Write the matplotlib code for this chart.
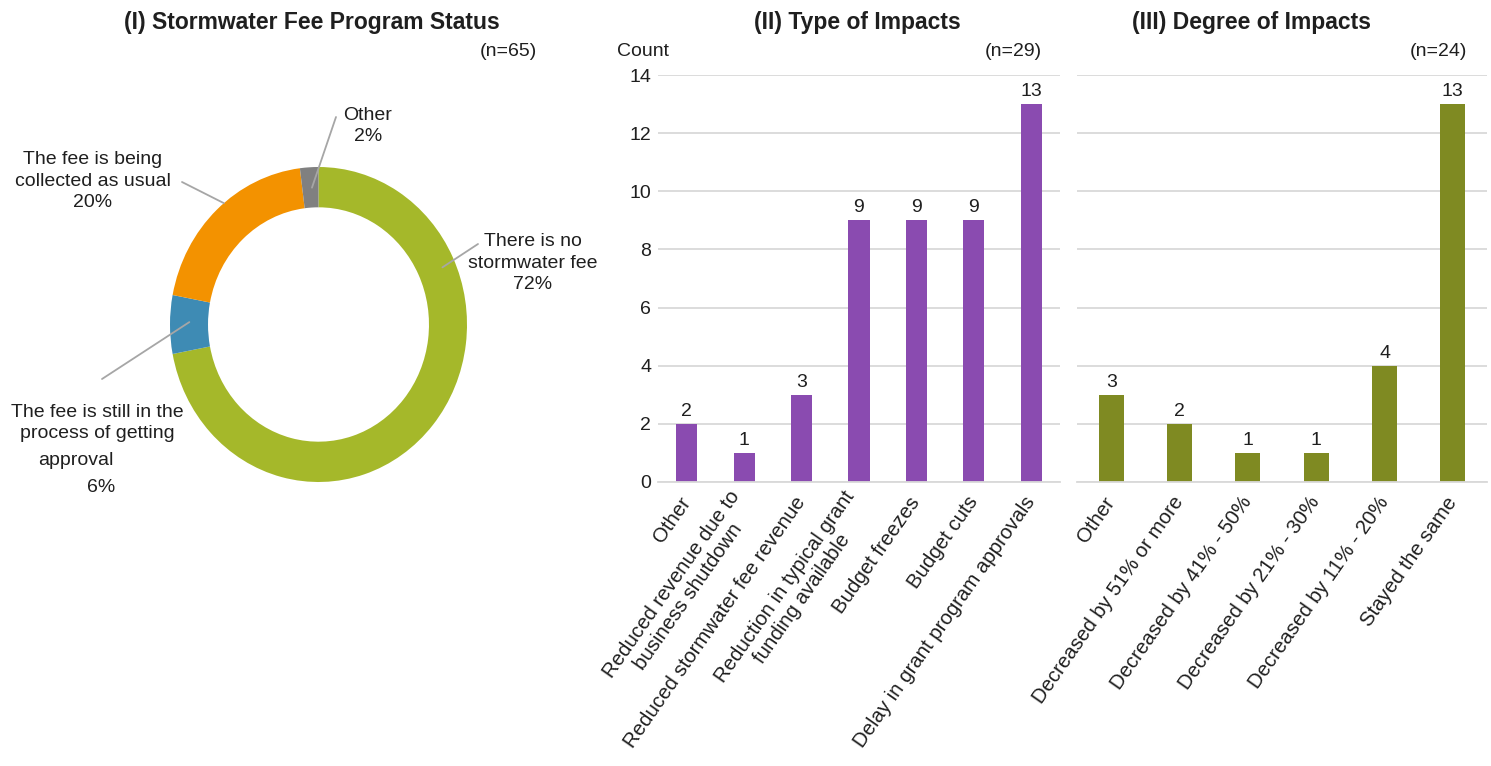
import matplotlib.pyplot as plt
import numpy as np

plt.rcParams['font.family'] = ['Liberation Sans', 'DejaVu Sans']
plt.rcParams['text.color'] = '#1f1f1f'

# (I) fee program status, clockwise from 12 o'clock
status_labels = ['There is no\nstormwater fee', 'The fee is still in the\nprocess of getting',
                 'The fee is being\ncollected as usual', 'Other']
status_share = [72, 6, 20, 2]
status_colors = ['#a5b82a', '#3e8bb4', '#f39200', '#808080']

# (II) type of impacts
type_labels = ['Other', 'Reduced revenue due to\nbusiness shutdown', 'Reduced stormwater fee revenue',
               'Reduction in typical grant\nfunding available', 'Budget freezes', 'Budget cuts',
               'Delay in grant program approvals']
type_counts = [2, 1, 3, 9, 9, 9, 13]

# (III) degree of impacts
degree_labels = ['Other', 'Decreased by 51% or more', 'Decreased by 41% - 50%',
                 'Decreased by 21% - 30%', 'Decreased by 11% - 20%', 'Stayed the same']
degree_counts = [3, 2, 1, 1, 4, 13]

W, H = 1491, 766
fig = plt.figure(figsize=(W / 100, H / 100), dpi=100)


def fx(px):
    return px / W


def fy(py):
    return 1 - py / H


# ---- donut ----
cx, cy, rx, ry = 318.5, 324.5, 148.5, 157.5
ax0 = fig.add_axes([fx(cx - 2 * rx), (H - cy - 2 * ry) / H, 4 * rx / W, 4 * ry / H])
ax0.pie(status_share, colors=status_colors, startangle=90, counterclock=False, radius=1,
        wedgeprops=dict(width=0.256, edgecolor='none'))
ax0.set_xlim(-2, 2)
ax0.set_ylim(-2, 2)
ax0.set_aspect('auto')
ax0.axis('off')

# label text position (px from top-left), leader start (px), leader end on ring (angle, r)
label_pos = [(533, 263), (97, 423), (93, 181), (368, 126)]
leader_start = [(478, 244), (102, 379), (182, 182), (336, 117)]
leader_end = [(23.5, 0.91), (179, 0.87), (129.6, 1.0), (92.9, 0.87)]

for i, lab in enumerate(status_labels):
    ang, r = leader_end[i]
    ex, ey = r * np.cos(np.radians(ang)), r * np.sin(np.radians(ang))
    sx, sy = leader_start[i]
    ax0.annotate('', xy=(ex, ey), xycoords='data', xytext=(sx, H - sy), textcoords='figure pixels',
                 arrowprops=dict(arrowstyle='-', color='#a6a6a6', lw=1.3, shrinkA=0, shrinkB=0))
    tx, ty = label_pos[i]
    if i == 1:
        fig.text(fx(tx), fy(ty), lab, ha='center', va='center', fontsize=14, linespacing=1.35)
        fig.text(fx(76), fy(461), 'approval', ha='center', va='center', fontsize=14)
        fig.text(fx(101), fy(487), f'{status_share[i]}%', ha='center', va='center', fontsize=14)
    elif i == 3:
        fig.text(fx(tx), fy(ty), f'{lab}\n{status_share[i]}%', ha='center', va='center',
                 fontsize=14, linespacing=1.25)
    else:
        fig.text(fx(tx), fy(ty), f'{lab}\n{status_share[i]}%', ha='center', va='center',
                 fontsize=14, linespacing=1.35)

fig.text(fx(312), fy(22), '(I) Stormwater Fee Program Status', ha='center', va='center',
         fontsize=16.5, fontweight='bold')
fig.text(fx(537), fy(52), '(n=65)', ha='right', va='center', fontsize=14)


# ---- bar panels ----
def style_bar_axes(ax, labels, show_yticks):
    ax.set_ylim(0, 14)
    ax.set_yticks(range(0, 15, 2))
    ax.set_xlim(-0.5, len(labels) - 0.5)
    ax.set_xticks(range(len(labels)))
    ax.set_xticklabels(labels, rotation=55, ha='right', va='center', rotation_mode='anchor',
                       multialignment='center', fontsize=14.7, linespacing=1.15)
    ax.yaxis.grid(True, color='#d9d9d9', lw=1.3)
    ax.set_axisbelow(True)
    for s in ['top', 'right', 'left']:
        ax.spines[s].set_visible(False)
    ax.spines['bottom'].set_color('#d9d9d9')
    ax.spines['bottom'].set_linewidth(1.3)
    ax.tick_params(axis='both', length=0, labelsize=14, colors='#1f1f1f')
    ax.tick_params(axis='x', pad=12, labelsize=14.7)
    ax.tick_params(axis='y', pad=5)
    if not show_yticks:
        ax.set_yticklabels([])
    ax.patch.set_alpha(0)


ax1 = fig.add_axes([fx(658), (H - 482) / H, 402 / W, 407 / H])
bars1 = ax1.bar(range(len(type_counts)), type_counts, width=0.37, color='#8a4bb0')
ax1.bar_label(bars1, padding=3, fontsize=14)
style_bar_axes(ax1, type_labels, True)

ax2 = fig.add_axes([fx(1077), (H - 482) / H, 410 / W, 407 / H])
bars2 = ax2.bar(range(len(degree_counts)), degree_counts, width=0.37, color='#7f8a22')
ax2.bar_label(bars2, padding=3, fontsize=14)
style_bar_axes(ax2, degree_labels, False)

fig.text(fx(857), fy(22), '(II) Type of Impacts', ha='center', va='center', fontsize=16.5, fontweight='bold')
fig.text(fx(617), fy(52), 'Count', ha='left', va='center', fontsize=14)
fig.text(fx(1042), fy(52), '(n=29)', ha='right', va='center', fontsize=14)

fig.text(fx(1252), fy(22), '(III) Degree of Impacts', ha='center', va='center', fontsize=16.5, fontweight='bold')
fig.text(fx(1467), fy(52), '(n=24)', ha='right', va='center', fontsize=14)

fig.savefig('out.png', dpi=100)
